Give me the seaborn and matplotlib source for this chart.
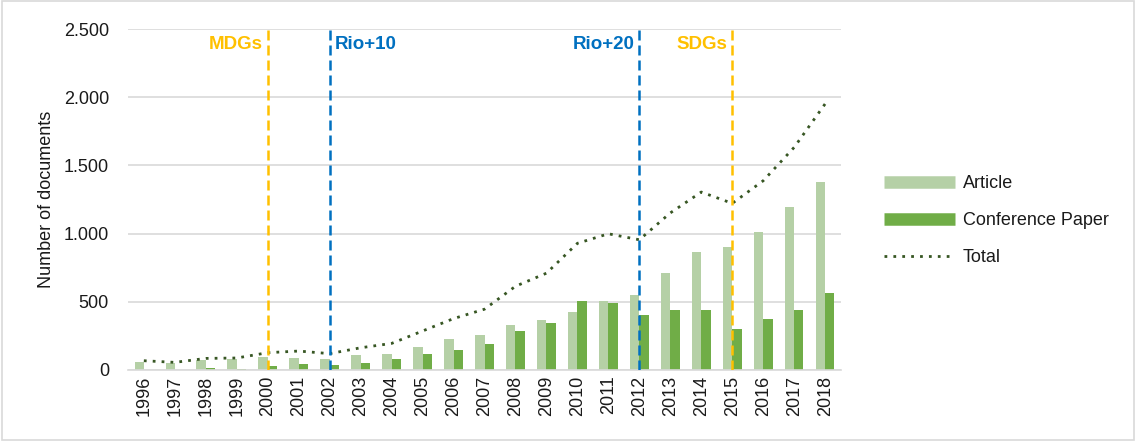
import matplotlib
matplotlib.use("Agg")
import matplotlib.pyplot as plt
import matplotlib.patches as patches
from matplotlib.lines import Line2D
from matplotlib.ticker import FuncFormatter
import pandas as pd
import seaborn as sns

years = [str(y) for y in range(1996, 2019)]
article = [60, 50, 75, 80, 95, 90, 80, 110, 117, 169, 230, 257, 330, 366,
           423, 508, 552, 712, 865, 905, 1013, 1193, 1376]
conference = [3, 2, 15, 5, 30, 42, 35, 52, 78, 117, 147, 189, 284, 344,
              506, 491, 403, 441, 440, 300, 375, 440, 566]
total = [68, 56, 85, 88, 127, 139, 120, 163, 195, 286, 377, 446, 614, 710,
         929, 999, 955, 1152, 1305, 1222, 1388, 1633, 1952]

events = ["MDGs", "Rio+10", "Rio+20", "SDGs"]
event_years = ["2000", "2002", "2012", "2015"]
event_colors = ["#ffc000", "#0070c0", "#0070c0", "#ffc000"]
event_side = ["left", "right", "left", "left"]

c_article = "#b5d0a6"
c_conf = "#70ad47"
c_total = "#375623"

sns.set_theme(style="white")
plt.rcParams["font.family"] = ["Liberation Sans", "DejaVu Sans"]
plt.rcParams["text.color"] = "#1a1a1a"
plt.rcParams["axes.labelcolor"] = "#1a1a1a"
plt.rcParams["xtick.color"] = "#1a1a1a"
plt.rcParams["ytick.color"] = "#1a1a1a"

df = pd.DataFrame({
    "Year": years * 2,
    "Count": article + conference,
    "Type": ["Article"] * len(years) + ["Conference Paper"] * len(years),
})

fig = plt.figure(figsize=(11.36, 4.41), dpi=100)
ax = fig.add_axes([0.113, 0.161, 0.627, 0.773])

sns.barplot(data=df, x="Year", y="Count", hue="Type", order=years,
            palette=[c_article, c_conf], width=0.6, saturation=1,
            linewidth=0, legend=False, ax=ax)
sns.lineplot(x=list(range(len(years))), y=total, color=c_total,
             linestyle=(0, (1, 2.2)), linewidth=2, ax=ax)

for name, yr, col, side in zip(events, event_years, event_colors, event_side):
    xi = years.index(yr)
    ax.axvline(xi, color=col, linestyle=(0, (4, 2)), linewidth=1.8, zorder=3)
    off = -0.15 if side == "left" else 0.15
    ax.text(xi + off, 2390, name, color=col, fontsize=13.5, fontweight="bold",
            ha="right" if side == "left" else "left", va="center")

ax.set_xlim(-0.5, len(years) - 0.5)
ax.set_ylim(0, 2500)
ax.set_yticks(range(0, 2501, 500))
ax.yaxis.set_major_formatter(FuncFormatter(lambda v, p: f"{int(v):,}".replace(",", ".")))
ax.grid(axis="y", color="#d9d9d9", linewidth=1.2)
ax.set_axisbelow(True)
for s in ["top", "right", "left"]:
    ax.spines[s].set_visible(False)
ax.spines["bottom"].set_color("#d9d9d9")
ax.spines["bottom"].set_linewidth(1.2)
ax.tick_params(axis="x", rotation=90, labelsize=13, length=0, pad=4)
ax.tick_params(axis="y", labelsize=13, length=0, pad=14)
ax.set_xlabel("")
ax.set_ylabel("Number of documents", fontsize=13, labelpad=6)

handles = [
    Line2D([], [], color=c_article, linewidth=9, solid_capstyle="butt"),
    Line2D([], [], color=c_conf, linewidth=9, solid_capstyle="butt"),
    Line2D([], [], color=c_total, linewidth=2, linestyle=(0, (1, 2.2))),
]
fig.legend(handles, ["Article", "Conference Paper", "Total"],
           loc="center left", bbox_to_anchor=(0.764, 0.5), frameon=False,
           fontsize=13, handlelength=3.9, labelspacing=1.1, handletextpad=0.45)

fig.patches.append(patches.Rectangle((0.002, 0.003), 0.996, 0.994,
                                     transform=fig.transFigure, fill=False,
                                     edgecolor="#d9d9d9", linewidth=1.2))

fig.savefig("out.png", dpi=100)
